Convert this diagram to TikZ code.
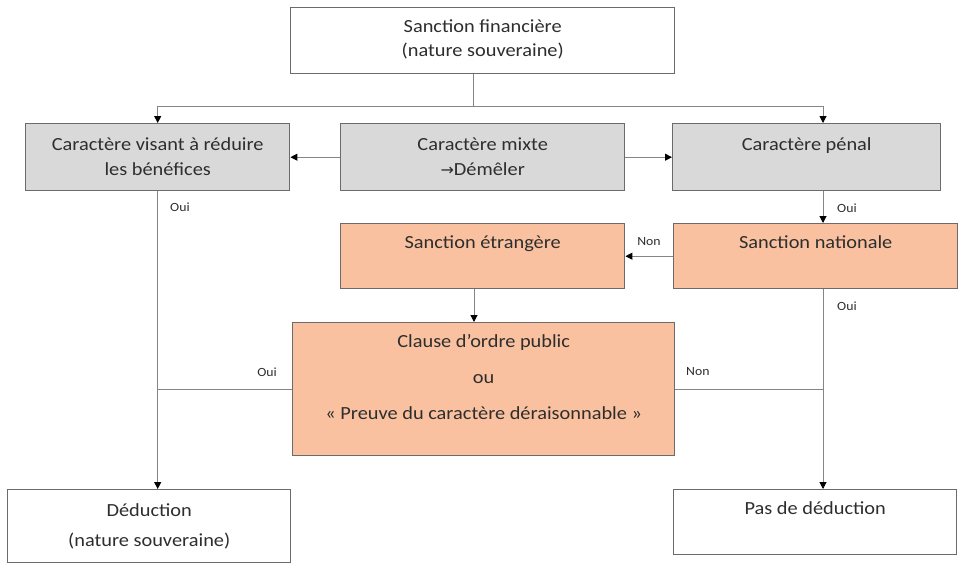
\documentclass[tikz,border=0pt]{standalone}
\usepackage{fontspec}
\setmainfont[FakeStretch=1.1]{Carlito}
\newfontfamily\symfont{DejaVu Sans}
\usetikzlibrary{arrows.meta,calc}
\definecolor{grayfill}{HTML}{D9D9D9}
\definecolor{orangefill}{HTML}{F9C19F}
\definecolor{edgec}{HTML}{6B6B6B}
\definecolor{linec}{HTML}{858585}
\definecolor{txtc}{HTML}{2E2E2E}
\newcommand\boxtext[5]{\parbox[c][#2][t]{#1}{\fontsize{18.5}{#4}\selectfont\centering\rule{0pt}{#3}#5}}
\begin{document}
\begin{tikzpicture}[x=1pt,y=-1pt,
  box/.style={draw=edgec,line width=1.4pt,inner sep=0pt,anchor=north west,text=txtc},
  conn/.style={draw=linec,line width=1pt},
  arr/.style={-{Triangle[length=7pt,width=7pt,color=black]}},
  lbl/.style={font=\fontsize{12.5}{14}\selectfont,text=txtc,inner sep=0pt}]
\useasboundingbox[fill=white] (0,0) rectangle (959,565);

\node[box,fill=white] (top) at (290,7) {\boxtext{384pt}{66pt}{25pt}{24pt}{Sanction financière\\(nature souveraine)}};
\node[box,fill=grayfill] (A) at (25,123) {\boxtext{264pt}{67pt}{27pt}{25pt}{Caractère visant à réduire\\les bénéfices}};
\node[box,fill=grayfill] (B) at (340,123) {\boxtext{284pt}{67pt}{27pt}{25pt}{Caractère mixte\\{\symfont\fontsize{16}{18}\selectfont →}Démêler}};
\node[box,fill=grayfill] (C) at (672,123) {\boxtext{268pt}{67pt}{27pt}{25pt}{Caractère pénal}};
\node[box,fill=orangefill] (E) at (340,223) {\boxtext{284pt}{65pt}{25pt}{25pt}{Sanction étrangère}};
\node[box,fill=orangefill] (N) at (673,223) {\boxtext{284pt}{65pt}{25pt}{25pt}{Sanction nationale}};
\node[box,fill=orangefill] (CL) at (292,322) {\boxtext{382pt}{133pt}{25pt}{36pt}{Clause d’ordre public\\ou\\« Preuve du caractère déraisonnable »}};
\node[box,fill=white] (D) at (7,489) {\boxtext{283pt}{73pt}{27pt}{30pt}{Déduction\\(nature souveraine)}};
\node[box,fill=white] (P) at (673,489) {\boxtext{283pt}{65pt}{25pt}{25pt}{Pas de déduction}};

\coordinate (j) at (473,106);
\coordinate (colR) at (823,0);
\coordinate (colM) at (474,0);

\draw[conn] (top.south -| j) -- (j);
\draw[conn,arr] (j) -| (A.north);
\draw[conn,arr] (j) -| (C.north -| colR);
\draw[conn,arr] (B.west) -- (A.east);
\draw[conn,arr] (B.east) -- (C.west);
\draw[conn,arr] (C.south -| colR) -- (N.north -| colR);
\draw[conn,arr] (N.west) -- (E.east);
\draw[conn,arr] (E.south -| colM) -- (CL.north -| colM);
\draw[conn,arr] (A.south) -- (A.south |- D.north);
\draw[conn,arr] (N.south -| colR) -- (P.north -| colR);
\draw[conn] (CL.west) -- (CL.west -| A.south);
\draw[conn] (CL.east) -- (CL.east -| colR);

\node[lbl,anchor=west] (l1) at (170,207) {Oui};
\node[lbl,anchor=west] (l2) at (837,208) {Oui};
\node[lbl,anchor=center] (l3) at (649,242) {Non};
\node[lbl,anchor=west] (l4) at (837,306) {Oui};
\node[lbl,anchor=east] (l5) at (277,372) {Oui};
\node[lbl,anchor=west] (l6) at (686,372) {Non};
\end{tikzpicture}
\end{document}
